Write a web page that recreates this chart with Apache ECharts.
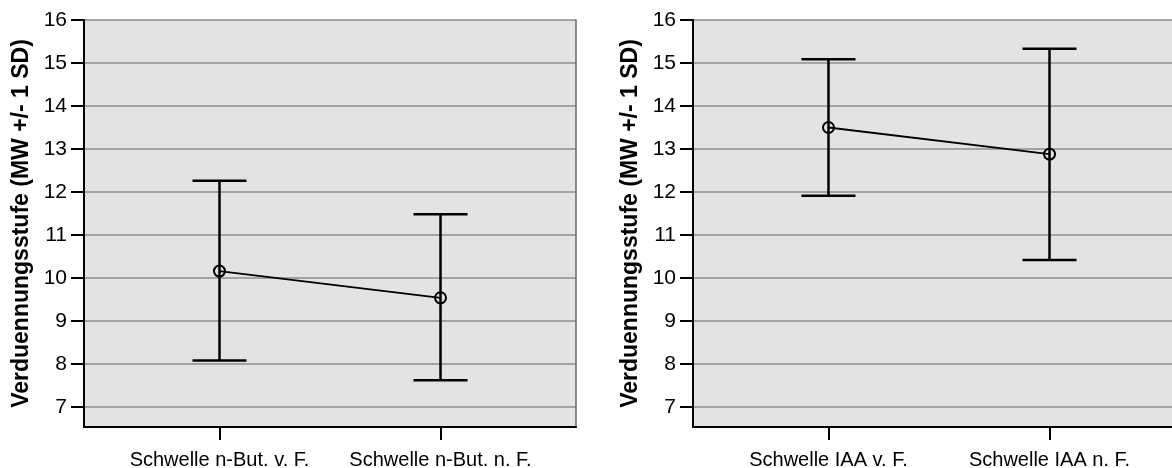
<!DOCTYPE html>
<html><head><meta charset="utf-8">
<script src="https://cdn.jsdelivr.net/npm/echarts@6/dist/echarts.min.js"></script>
<style>html,body{margin:0;padding:0;background:#fff}#c{width:1172px;height:468px}</style>
</head><body><div id="c"></div>
<script>
const categoriesLeft = ['Schwelle n-But. v. F.', 'Schwelle n-But. n. F.'];
const categoriesRight = ['Schwelle IAA v. F.', 'Schwelle IAA n. F.'];
const meanLeft = [10.16, 9.54];
const lowLeft = [8.08, 7.62];
const highLeft = [12.26, 11.48];
const meanRight = [13.50, 12.88];
const lowRight = [11.91, 10.42];
const highRight = [15.09, 15.33];
const yTicks = [7, 8, 9, 10, 11, 12, 13, 14, 15, 16];
const yTitle = 'Verduennungsstufe (MW +/- 1 SD)';

const FONT = '"Liberation Sans", Arial, sans-serif';
const BG = '#e3e3e3';
const GRIDC = '#a3a3a3';

function panelGrid(left) {
  return { left: left, top: 20, width: 492, height: 407, show: true, backgroundColor: BG, borderWidth: 0,
    containLabel: false, outerBoundsMode: 'none' };
}
function xAx(gi, cats) {
  return {
    type: 'value', gridIndex: gi, min: 0.387, max: 2.613,
    axisLine: { show: true, onZero: false, lineStyle: { color: '#000', width: 2 } },
    axisTick: { show: true, length: 13, lineStyle: { color: '#000', width: 2 }, customValues: [1, 2] },
    axisLabel: { show: true, margin: 23, fontSize: 20, color: '#000', fontFamily: FONT,
      customValues: [1, 2], formatter: v => cats[Math.round(v) - 1] || '' },
    splitLine: { show: false }
  };
}
function yAx(gi) {
  return {
    type: 'value', gridIndex: gi, min: 6.535, max: 16, splitNumber: 9, minInterval: 1, maxInterval: 1,
    name: yTitle, nameLocation: 'middle', nameGap: 51, nameRotate: 90,
    nameTextStyle: { fontSize: 23, fontWeight: 'bold', color: '#000', fontFamily: FONT },
    axisLine: { show: true, onZero: false, lineStyle: { color: '#000', width: 2 } },
    axisTick: { show: true, length: 13, lineStyle: { color: '#000', width: 2 }, customValues: yTicks },
    axisLabel: { show: true, margin: 17, fontSize: 21, color: '#000', fontFamily: FONT, customValues: yTicks },
    splitLine: { show: true, lineStyle: { color: GRIDC, width: 2 } }
  };
}
function yBorder(gi) {
  return {
    type: 'value', gridIndex: gi, position: 'right', min: 6.535, max: 16,
    axisLine: { show: true, onZero: false, lineStyle: { color: '#666', width: 1.5 } },
    axisTick: { show: false }, axisLabel: { show: false }, splitLine: { show: false }
  };
}
function errSeries(xi, yi, lows, highs) {
  return {
    type: 'custom', xAxisIndex: xi, yAxisIndex: yi, z: 3,
    data: lows.map((l, i) => [i + 1, l, highs[i]]),
    encode: { x: 0, y: [1, 2] },
    renderItem: function (params, api) {
      const x = api.value(0);
      const pLo = api.coord([x, api.value(1)]);
      const pHi = api.coord([x, api.value(2)]);
      const cap = 27;
      const style = { stroke: '#000', lineWidth: 2.5, fill: null };
      return { type: 'group', children: [
        { type: 'line', shape: { x1: pLo[0], y1: pLo[1], x2: pHi[0], y2: pHi[1] }, style: style },
        { type: 'line', shape: { x1: pLo[0] - cap, y1: pLo[1], x2: pLo[0] + cap, y2: pLo[1] }, style: style },
        { type: 'line', shape: { x1: pHi[0] - cap, y1: pHi[1], x2: pHi[0] + cap, y2: pHi[1] }, style: style }
      ] };
    }
  };
}
function meanSeries(xi, yi, means) {
  return {
    type: 'line', xAxisIndex: xi, yAxisIndex: yi, z: 4,
    data: means.map((m, i) => [i + 1, m]),
    symbol: 'circle', symbolSize: 11, showAllSymbol: true,
    itemStyle: { color: 'rgba(0,0,0,0)', borderColor: '#000', borderWidth: 2 },
    lineStyle: { color: '#000', width: 1.8 },
    emphasis: { disabled: true }, silent: true, animation: false
  };
}

const chart = echarts.init(document.getElementById('c'), null, { renderer: 'canvas' });
chart.setOption({
  animation: false,
  backgroundColor: '#fff',
  textStyle: { fontFamily: FONT },
  grid: [panelGrid(84), panelGrid(693)],
  xAxis: [xAx(0, categoriesLeft), xAx(1, categoriesRight)],
  yAxis: [yAx(0), yAx(1), yBorder(0), yBorder(1)],
  series: [
    errSeries(0, 0, lowLeft, highLeft),
    meanSeries(0, 0, meanLeft),
    errSeries(1, 1, lowRight, highRight),
    meanSeries(1, 1, meanRight)
  ]
});
</script></body></html>
